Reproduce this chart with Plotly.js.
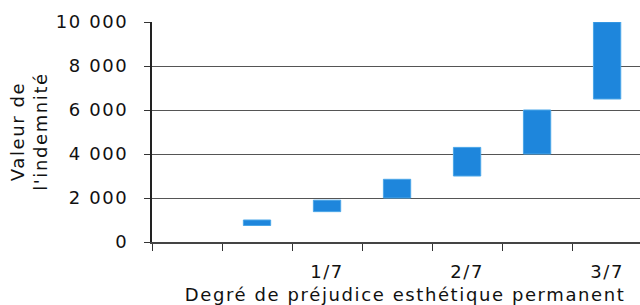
<!DOCTYPE html>
<html>
<head>
<meta charset="utf-8">
<script src="https://cdn.plot.ly/plotly-3.0.1.min.js"></script>
<style>
html,body{margin:0;padding:0;background:#fff;}
#chart{width:640px;height:305px;}
#chart svg text{letter-spacing:1.6px;}
</style>
</head>
<body>
<div id="chart"></div>
<script>
// Data
const positions = [1.5, 2.5, 3.5, 4.5, 5.5, 6.5];
const lowValues = [750, 1380, 2000, 3000, 4000, 6500];
const highValues = [1000, 1900, 2850, 4300, 6000, 10000];
const xTickVals = [2.5, 4.5, 6.5];
const xTickText = ['1/7', '2/7', '3/7'];
const yTickVals = [0, 2000, 4000, 6000, 8000, 10000];
const yTickText = ['0', '2 000', '4 000', '6 000', '8 000', '10 000'];
const xTitle = 'Degré de préjudice esthétique permanent';
const yTitle = 'Valeur de<br>l\'indemnité';

const FONT = 'DejaVu Sans';
const FS = 18;
const spans = highValues.map((h, i) => h - lowValues[i]);

const trace = {
  type: 'bar',
  x: positions,
  y: spans,
  base: lowValues,
  width: 0.39,
  marker: {color: '#1e86dc', line: {color: '#4aa6e8', width: 1}},
  hoverinfo: 'skip'
};
const ghost = {type: 'scatter', x: xTickVals, y: [0,0,0], xaxis: 'x2', mode: 'markers', marker: {opacity: 0}, hoverinfo: 'skip', showlegend: false};

const layout = {
  width: 640, height: 305,
  margin: {l: 152, r: 0, t: 22, b: 63},
  paper_bgcolor: '#fff', plot_bgcolor: '#fff',
  showlegend: false,
  font: {family: FONT, size: FS, color: '#111'},
  xaxis: {
    range: [0, 6.97], tickvals: [0,1,2,3,4,5,6,7], ticktext: ['','','','','','','',''],
    ticks: 'outside', ticklen: 7, tickcolor: '#333', tickwidth: 1,
    showgrid: false, zeroline: false, showline: true, linecolor: '#444', linewidth: 2
  },
  xaxis2: {
    overlaying: 'x', anchor: 'y', side: 'bottom', range: [0, 6.97],
    tickvals: xTickVals, ticktext: xTickText, ticks: '', ticklabelstandoff: 17,
    showgrid: false, zeroline: false, showline: false,
    tickfont: {family: FONT, size: FS, color: '#111'}
  },
  yaxis: {
    range: [0, 10000], tickvals: yTickVals, ticktext: yTickText,
    ticks: 'outside', ticklen: 6, tickcolor: '#333', ticklabelstandoff: 12,
    showgrid: true, gridcolor: '#555', gridwidth: 1, zeroline: false,
    showline: true, linecolor: '#222', linewidth: 2,
    tickfont: {family: FONT, size: FS, color: '#111'}
  },
  annotations: [
    {text: xTitle, xref: 'paper', yref: 'paper', x: (405 - 152) / 488, y: (242 - 294) / 220,
     xanchor: 'center', yanchor: 'middle', showarrow: false, font: {family: FONT, size: FS, color: '#111'}},
    {text: yTitle, xref: 'paper', yref: 'paper', x: (29 - 152) / 488, y: 0.5, textangle: -90,
     xanchor: 'center', yanchor: 'middle', showarrow: false, font: {family: FONT, size: FS, color: '#111'}}
  ],
  bargap: 0
};

Plotly.newPlot('chart', [trace, ghost], layout, {displayModeBar: false, staticPlot: true});
</script>
</body>
</html>
